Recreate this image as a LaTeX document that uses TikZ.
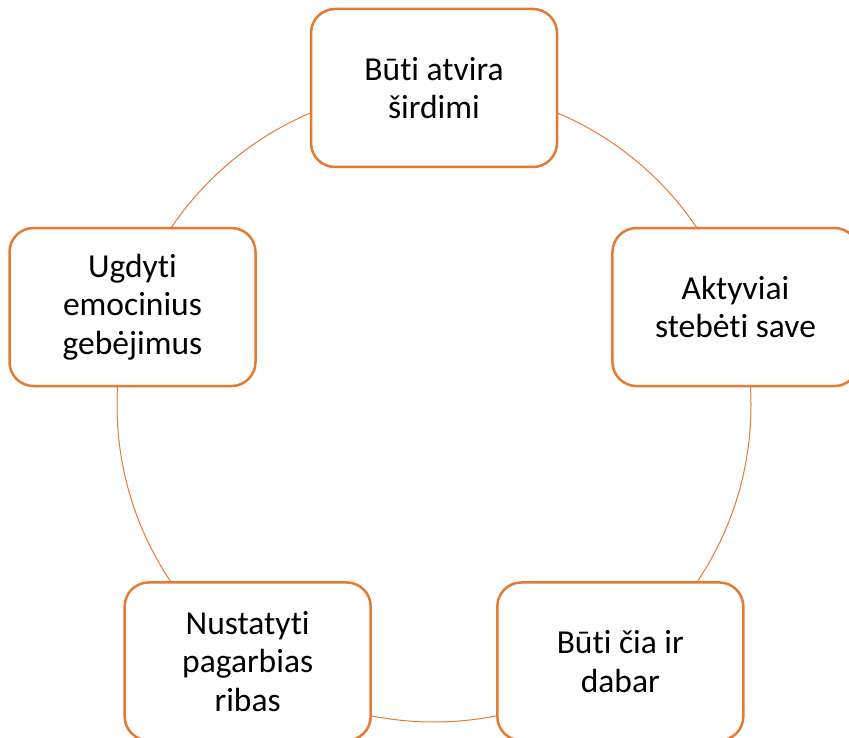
\documentclass[tikz,border=0pt]{standalone}
\usepackage{fontspec}
\setmainfont[RawFeature={-liga,-clig,-calt,-dlig}]{Carlito}
\usepackage{xcolor}
\usepackage{tikz}
\usetikzlibrary{positioning}

\definecolor{accent}{HTML}{E57A33}

\begin{document}
\begin{tikzpicture}[x=1pt, y=1pt,
		box/.style={draw=accent, line width=2.5pt, fill=white, rounded corners=24pt,
			minimum width=246pt, minimum height=158pt, align=center,
			font=\fontsize{33.5}{38.5}\selectfont},
		ring/.style={draw=accent, line width=1pt}]
		\useasboundingbox (0,0) rectangle (849,-738);
		\clip (0,0) rectangle (849,-738);
		
		\coordinate (centre) at (434,-405);
		\draw[ring] (centre) circle (317);
		
		\node[box] (heart)    at ([shift={(90:317)}]centre)   {Būti atvira\\širdimi};
		\node[box] (observe)  at ([shift={(18:317)}]centre)   {Aktyviai\\stebėti save};
		\node[box] (here now) at ([shift={(-54:317)}]centre)  {Būti čia ir\\dabar};
		\node[box] (limits)   at ([shift={(-126:317)}]centre) {Nustatyti\\pagarbias\\ribas};
		\node[box] (emotions) at ([shift={(162:317)}]centre)  {Ugdyti\\emocinius\\gebėjimus};
	\end{tikzpicture}
\end{document}
